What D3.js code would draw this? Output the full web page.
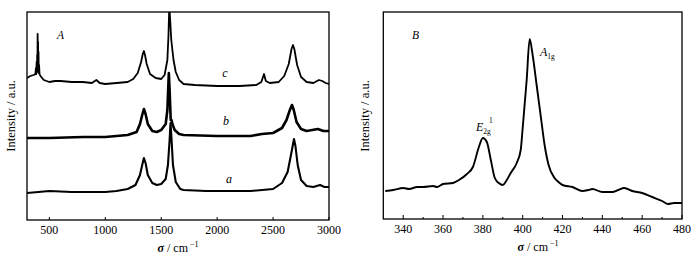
<!DOCTYPE html>
<html><head><meta charset="utf-8">
<script src="https://cdn.jsdelivr.net/npm/d3@7"></script>
<style>body{margin:0;background:#fff}svg{display:block}</style>
</head><body><svg id="c" width="700" height="261" font-family="'Liberation Serif', 'DejaVu Serif', serif"></svg>
<script>
// Panel A: Raman spectra a, b, c (wavenumber, intensity a.u.)
const seriesC = [[300,142],[330,144],[360,145],[375,146],[380,152],[383,146],[386,158],[389,148],[391,165],[393,150],[395,186],[397,152],[399,178],[401,150],[403,168],[405,147],[408,155],[412,146],[420,144],[450,140],[500,138],[550,139],[600,139],[700,138],[800,138],[880,137],[920,140],[950,137],[1000,136],[1100,137],[1200,138],[1250,141],[1290,147],[1320,158],[1335,166],[1345,169],[1355,165],[1370,156],[1400,146],[1450,142],[1500,141],[1530,145],[1555,160],[1565,185],[1572,215],[1580,200],[1590,180],[1610,160],[1630,148],[1660,140],[1700,136],[1800,135],[2000,134],[2200,134],[2350,135],[2395,138],[2419,146],[2435,139],[2470,137],[2550,138],[2600,144],[2640,156],[2665,171],[2678,175],[2690,171],[2715,155],[2750,143],[2800,138],[2860,137],[2910,140],[2940,139],[2970,137],[3000,136]];
const seriesB = [[300,82],[500,82],[800,83],[1000,83],[1200,85],[1280,88],[1310,96],[1330,105],[1345,111],[1360,106],[1380,96],[1420,89],[1460,88],[1500,90],[1540,96],[1555,110],[1562,130],[1568,147],[1575,130],[1585,100],[1592,100],[1600,96],[1620,90],[1660,86],[1700,85],[2000,84],[2300,84],[2400,86],[2500,87],[2580,92],[2620,100],[2650,110],[2669,115],[2685,110],[2710,98],[2750,91],[2800,89],[2900,91],[2950,89],[3000,89]];
const seriesA = [[300,27],[500,29],[700,28],[1000,28],[1100,29],[1200,31],[1270,35],[1310,45],[1330,55],[1345,62],[1360,57],[1380,45],[1420,37],[1460,35],[1500,36],[1540,41],[1560,55],[1575,80],[1583,97],[1590,85],[1605,55],[1630,38],[1670,31],[1700,30],[1900,29],[2100,29],[2300,29],[2500,31],[2580,37],[2630,48],[2660,65],[2687,81],[2700,74],[2720,55],[2750,40],[2800,34],[2860,33],[2920,35],[2960,33],[3000,33]];
const ticksA = [500,1000,1500,2000,2500,3000];
// Panel B: MoS2 region
const seriesMoS2 = [[331,28],[335,29],[340,31],[343,30],[347,32],[350,32],[355,33],[357,32],[360,35],[365,36],[368,39],[372,45],[375,52],[378,72],[380,81],[382,77],[384,59],[386,41],[388,36],[390,34],[392,39],[394,46],[397,56],[399,69],[400,91],[402,139],[403.5,180],[405,164],[407,134],[409,104],[411,74],[413,54],[416,41],[418,37],[420,34],[425,32],[430,28],[433,29],[435,30],[440,27],[445,27],[448,29],[451,31],[455,28],[460,26],[465,22],[470,18],[473,15],[476,16],[480,16]];
const ticksBMajor = [340,360,380,400,420,440,460,480];
const ticksBMinor = [350,370,390,410,430,450,470];

const svg = d3.select("#c");

function frame(g, x0, x1, y0, y1){
  g.append("rect").attr("x",x0).attr("y",y0).attr("width",x1-x0).attr("height",y1-y0)
   .attr("fill","none").attr("stroke","#000").attr("stroke-width",1.3);
}
function xLabel(x, y){
  const t = svg.append("text").attr("x",x).attr("y",y).attr("text-anchor","middle").attr("font-size",12);
  t.append("tspan").attr("font-style","italic").attr("font-weight","bold").text("σ");
  t.append("tspan").text(" / cm");
  t.append("tspan").attr("font-size",8).attr("dy",-5).text(" −1");
}
function yLabel(x, y){
  svg.append("text").attr("transform",`translate(${x},${y}) rotate(-90)`).attr("text-anchor","middle")
    .attr("font-size",12.5).text("Intensity / a.u.");
}

// ---- Panel A
const xA = d3.scaleLinear().domain([300,3000]).range([27,329]);
const yA = d3.scaleLinear().domain([0,208]).range([220,12]);
svg.append("clipPath").attr("id","clipA").append("rect").attr("x",27).attr("y",12).attr("width",302).attr("height",208);
const gA = svg.append("g");
const lineA = d3.line().x(d=>xA(d[0])).y(d=>yA(d[1]));
[[seriesC,1.8],[seriesB,2.6],[seriesA,2.1]].forEach(([s,w])=>{
  gA.append("path").attr("d",lineA(s)).attr("fill","none").attr("stroke","#000")
    .attr("stroke-width",w).attr("stroke-linejoin","round").attr("clip-path","url(#clipA)");
});
frame(gA,27,329,12,220);
ticksA.forEach(t=>{
  gA.append("line").attr("x1",xA(t)).attr("x2",xA(t)).attr("y1",220).attr("y2",217).attr("stroke","#000").attr("stroke-width",1);
  gA.append("text").attr("x",xA(t)).attr("y",234).attr("text-anchor","middle").attr("font-size",12).text(t);
});
xLabel(178,252);
yLabel(15,116);
svg.append("text").attr("x",57).attr("y",39).attr("font-size",11.5).attr("font-style","italic").text("A");
svg.append("text").attr("x",225).attr("y",77).attr("font-size",12).attr("font-style","italic").attr("text-anchor","middle").text("c");
svg.append("text").attr("x",226).attr("y",125).attr("font-size",12).attr("font-style","italic").attr("text-anchor","middle").text("b");
svg.append("text").attr("x",229).attr("y",183).attr("font-size",12).attr("font-style","italic").attr("text-anchor","middle").text("a");

// ---- Panel B
const xB = d3.scaleLinear().domain([330,480]).range([383.3,682]);
const yB = d3.scaleLinear().domain([0,207]).range([219,12]);
const gB = svg.append("g");
gB.append("path").attr("d",d3.line().x(d=>xB(d[0])).y(d=>yB(d[1])).curve(d3.curveMonotoneX)(seriesMoS2))
  .attr("fill","none").attr("stroke","#000").attr("stroke-width",1.9).attr("stroke-linejoin","round");
frame(gB,383.3,682,12,219);
ticksBMajor.forEach(t=>{
  gB.append("line").attr("x1",xB(t)).attr("x2",xB(t)).attr("y1",219).attr("y2",215).attr("stroke","#000").attr("stroke-width",1);
  gB.append("text").attr("x",xB(t)).attr("y",233).attr("text-anchor","middle").attr("font-size",12).text(t);
});
ticksBMinor.forEach(t=>{
  gB.append("line").attr("x1",xB(t)).attr("x2",xB(t)).attr("y1",219).attr("y2",217).attr("stroke","#000").attr("stroke-width",1);
});
xLabel(538,251);
yLabel(369,116);
svg.append("text").attr("x",412).attr("y",39).attr("font-size",11.5).attr("font-style","italic").text("B");
const a1g = svg.append("text").attr("x",540).attr("y",56).attr("font-size",12);
a1g.append("tspan").attr("font-style","italic").text("A");
a1g.append("tspan").attr("font-size",7.5).attr("dy",3).text("1g");
const e2g = svg.append("text").attr("x",476).attr("y",131).attr("font-size",12);
e2g.append("tspan").attr("font-style","italic").text("E");
e2g.append("tspan").attr("font-size",7.5).attr("dy",3).text("2g");
svg.append("text").attr("x",489).attr("y",123).attr("font-size",7.5).text("1");
</script></body></html>
